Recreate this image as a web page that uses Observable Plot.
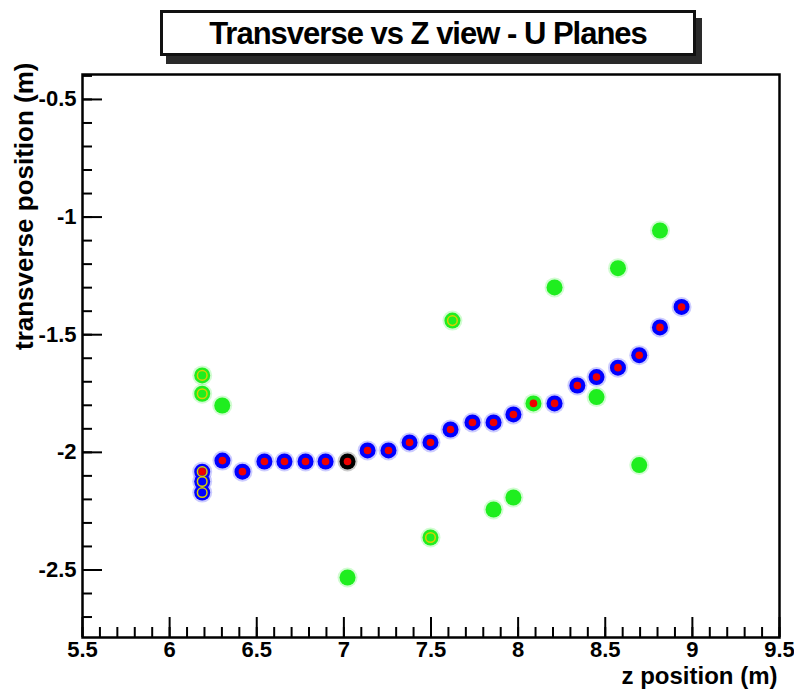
<!DOCTYPE html>
<html><head><meta charset="utf-8">
<script src="https://cdn.jsdelivr.net/npm/d3@7"></script>
<script src="https://cdn.jsdelivr.net/npm/@observablehq/plot@0.6"></script>
<style>
body{margin:0;background:#fff;}
#wrap{position:relative;width:794px;height:699px;overflow:hidden;}
#title{position:absolute;left:160px;top:10px;width:530px;height:40px;border:3px solid #111;box-shadow:6px 8px 0 #2a2a2a;background:#fff;font:bold 31px "Liberation Sans",Arial,sans-serif;text-align:center;line-height:42px;letter-spacing:-1px;z-index:2;color:#000;}
#chart{position:absolute;left:0;top:0;}
</style></head>
<body><div id="wrap"><div id="title">Transverse vs Z view - U Planes</div><div id="chart"></div></div>
<script>
// Tick labels
const xTickLabels = [5.5, 6, 6.5, 7, 7.5, 8, 8.5, 9, 9.5];
const yTickLabels = [-2.5, -2, -1.5, -1, -0.5];

// Track hits (z position, transverse position, hit kind)
const trackZ = [6.187, 6.187, 6.187, 6.303, 6.418, 6.544, 6.659, 6.780, 6.895, 7.021, 7.136, 7.256, 7.377, 7.497, 7.612, 7.738, 7.859, 7.973, 8.088, 8.209, 8.340, 8.450, 8.573, 8.695, 8.814, 8.938];
const trackV = [-2.082, -2.124, -2.171, -2.035, -2.082, -2.039, -2.039, -2.039, -2.039, -2.039, -1.992, -1.992, -1.958, -1.958, -1.903, -1.873, -1.873, -1.839, -1.792, -1.792, -1.716, -1.680, -1.640, -1.587, -1.469, -1.382];
const trackKind = ["vertexStrip", "strip", "strip", "track", "track", "track", "track", "track", "track", "vertex", "track", "track", "track", "track", "track", "track", "track", "track", "shared", "track", "track", "track", "track", "track", "track", "track"];

// Other (non-track) hits
const otherZ = [6.187, 6.187, 6.302, 7.021, 7.497, 7.623, 7.859, 7.973, 8.209, 8.450, 8.573, 8.695, 8.814];
const otherV = [-1.673, -1.751, -1.801, -2.532, -2.362, -1.440, -2.243, -2.192, -1.299, -1.765, -1.217, -2.054, -1.057];
const otherKind = ["otherRing", "otherRing", "other", "other", "otherRing", "otherRing", "other", "other", "other", "other", "other", "other", "other"];

const hits = [
  ...trackZ.map((z, i) => ({z, v: trackV[i], kind: trackKind[i]})),
  ...otherZ.map((z, i) => ({z, v: otherV[i], kind: otherKind[i]}))
];

const BLUE = "#0000ff", GREEN = "#1fee1f", RED = "#ee0000", YELLOW = "#d8d000", BLACK = "#000000";
const baseColor = d => d.kind === "vertex" ? BLACK : (d.kind === "shared" || d.kind.startsWith("other")) ? GREEN : BLUE;
const hasRed = d => ["track", "vertex", "shared", "vertexStrip"].includes(d.kind);
const hasRing = d => ["strip", "vertexStrip", "otherRing"].includes(d.kind);

const W = 794, H = 699, mL = 82, mR = 15, mT = 74, mB = 62;
const innerW = W - mL - mR, innerH = H - mT - mB;
const xMinor = d3.range(55, 96, 1).map(d => d / 10);
const yMinor = d3.range(-27, -3, 1).map(d => d / 10);
const font = "'Liberation Sans', Arial, sans-serif";

const chart = Plot.plot({
  width: W, height: H,
  marginLeft: mL, marginRight: mR, marginTop: mT, marginBottom: mB,
  x: {domain: [5.5, 9.5], axis: null},
  y: {domain: [-2.787, -0.394], axis: null},
  style: {fontFamily: font, background: "white"},
  marks: [
    // hits
    Plot.dot(hits, {x: "z", y: "v", r: 10, fill: baseColor, fillOpacity: 0.2}),
    Plot.dot(hits, {x: "z", y: "v", r: 8, fill: baseColor}),
    Plot.dot(hits.filter(hasRed), {x: "z", y: "v", r: 3.8, fill: RED}),
    Plot.dot(hits.filter(hasRing), {x: "z", y: "v", r: 4.8, fill: "none", stroke: YELLOW, strokeWidth: 1.5}),
    // ticks (inside frame)
    Plot.ruleX(xMinor, {x: d => d, insetTop: innerH - 10, stroke: "black", strokeWidth: 2}),
    Plot.ruleX(xTickLabels, {x: d => d, insetTop: innerH - 20, stroke: "black", strokeWidth: 2}),
    Plot.ruleY(yMinor, {y: d => d, insetRight: innerW - 10, stroke: "black", strokeWidth: 2}),
    Plot.ruleY(yTickLabels, {y: d => d, insetRight: innerW - 20, stroke: "black", strokeWidth: 2}),
    Plot.frame({stroke: "black", strokeWidth: 2.5}),
    // tick labels
    Plot.text(xTickLabels, {x: d => d, frameAnchor: "bottom", dy: 19, text: d => String(d), fontSize: 22, fontWeight: "bold", fill: "black"}),
    Plot.text(yTickLabels, {y: d => d, frameAnchor: "left", textAnchor: "end", dx: -6, text: d => String(d), fontSize: 22, fontWeight: "bold", fill: "black"}),
    // axis titles
    Plot.text(["z position (m)"], {frameAnchor: "bottom-right", textAnchor: "end", dx: -2, dy: 46, fontSize: 24, fontWeight: "bold", fill: "black"}),
    Plot.text(["transverse position (m)"], {frameAnchor: "top-left", textAnchor: "end", rotate: -90, dx: -68, dy: -12, fontSize: 26, fontWeight: "bold", fill: "black"})
  ]
});
document.getElementById("chart").appendChild(chart);
</script>
</body></html>
